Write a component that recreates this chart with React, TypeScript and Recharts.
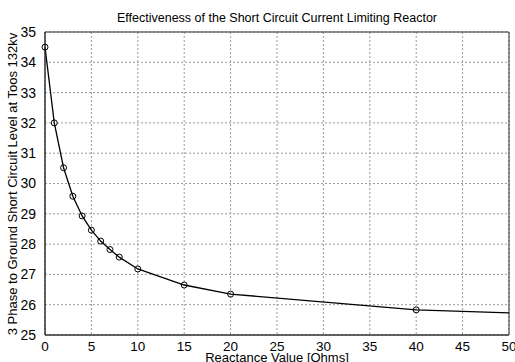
import React from 'react';
import { LineChart, Line, CartesianGrid, XAxis, YAxis, ReferenceArea, Label } from 'recharts';

const reactance = [0, 1, 2, 3, 4, 5, 6, 7, 8, 10, 15, 20, 40, 50];
const shortCircuitLevel = [34.5, 32.0, 30.52, 29.58, 28.93, 28.46, 28.1, 27.82, 27.57, 27.18, 26.65, 26.35, 25.83, 25.73];
const markedPoints = [0, 1, 2, 3, 4, 5, 6, 7, 8, 10, 15, 20, 40];
const xTicks = [0, 5, 10, 15, 20, 25, 30, 35, 40, 45, 50];
const yTicks = [25, 26, 27, 28, 29, 30, 31, 32, 33, 34, 35];

const data = reactance.map((x, i) => ({ x, y: shortCircuitLevel[i] }));

const font = 'Liberation Sans, Arial, sans-serif';

const Marker = (props: any) => {
  const { cx, cy, payload, index } = props;
  if (!markedPoints.includes(payload.x)) return <g key={index} />;
  return <circle key={index} cx={cx} cy={cy} r={3} fill="none" stroke="#000" strokeWidth={1} />;
};

const App: React.FC = () => {
  return (
    <div style={{ position: 'absolute', left: 0, top: 0, width: 515, height: 362, background: '#fff', fontFamily: font }}>
      <LineChart width={515} height={362} data={data} margin={{ top: 32, right: 6, bottom: 7, left: 15 }}>
        <CartesianGrid stroke="#9a9a9a" strokeDasharray="2 2" />
        <XAxis
          dataKey="x"
          type="number"
          domain={[0, 50]}
          ticks={xTicks}
          height={20}
          tickLine={false}
          axisLine={{ stroke: '#333' }}
          tick={{ fill: '#000', fontSize: 13.5, fontFamily: font }}
          tickMargin={0}
          interval={0}
        >
          <Label
            content={() => (
              <text x={277} y={362} textAnchor="middle" fill="#000" fontSize={13} fontFamily={font}>
                Reactance Value [Ohms]
              </text>
            )}
          />
        </XAxis>
        <YAxis
          type="number"
          domain={[25, 35]}
          ticks={yTicks}
          width={30}
          tickLine={false}
          axisLine={{ stroke: '#333' }}
          tick={{ fill: '#000', fontSize: 14, fontFamily: font }}
          tickMargin={3}
          interval={0}
        >
          <Label
            content={() => (
              <text x={17} y={184} transform="rotate(-90 17 184)" textAnchor="middle" fill="#000" fontSize={13} fontFamily={font}>
                3 Phase to Ground Short Circuit Level at Toos 132kv
              </text>
            )}
          />
        </YAxis>
        <ReferenceArea x1={0} x2={50} y1={25} y2={35} fill="none" stroke="#333" strokeWidth={1} ifOverflow="visible" />
        <Line
          type="linear"
          dataKey="y"
          stroke="#000"
          strokeWidth={1.3}
          dot={Marker}
          activeDot={false}
          isAnimationActive={false}
        />
        <text x={277} y={22} textAnchor="middle" fill="#000" fontSize={12.5} fontFamily={font}>
          Effectiveness of the Short Circuit Current Limiting Reactor
        </text>
      </LineChart>
    </div>
  );
};

export default App;
